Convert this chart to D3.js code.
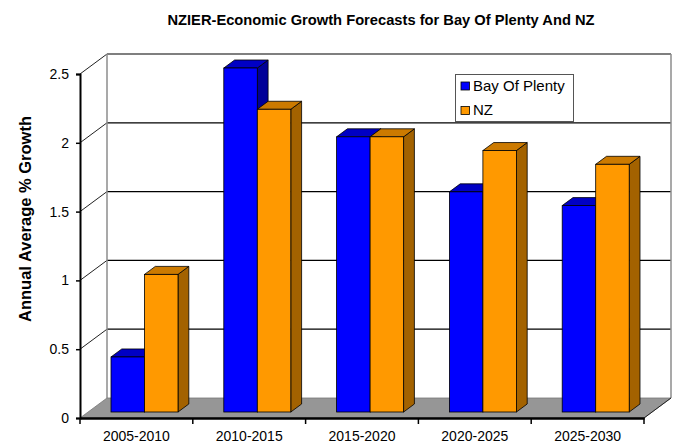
<!DOCTYPE html>
<html>
<head>
<meta charset="utf-8">
<script src="https://cdn.jsdelivr.net/npm/d3@7"></script>
<style>
  body { margin: 0; background: #fff; }
  text { font-family: "Liberation Sans", Arial, sans-serif; }
</style>
</head>
<body>
<div id="chart"></div>
<script>
// Chart data
var categories = ["2005-2010", "2010-2015", "2015-2020", "2020-2025", "2025-2030"];
var bopValues = [0.4, 2.5, 2.0, 1.6, 1.5];
var nzValues = [1.0, 2.2, 2.0, 1.9, 1.8];
var seriesNames = ["Bay Of Plenty", "NZ"];
var yTicks = [0, 0.5, 1, 1.5, 2, 2.5];

var svgWidth = 684;
var svgHeight = 446;

// Front plane of the plot and the depth shift of the back wall
var plot = { left: 80, right: 644, top: 74, bottom: 418 };
var depth = { dx: 27, dy: -20 };

var svg = d3.select("#chart")
  .append("svg")
  .attr("width", svgWidth)
  .attr("height", svgHeight);

var xScale = d3.scaleBand()
  .domain(categories)
  .range([plot.left, plot.right]);

var yScale = d3.scaleLinear()
  .domain([0, 2.5])
  .range([plot.bottom, plot.top]);

// Point at depth t (0 = front, 1 = back wall)
function shift(x, y, t) {
  return [x + depth.dx * t, y + depth.dy * t];
}

// Back wall
var bwTop = yScale(2.5) + depth.dy;
var bwBottom = yScale(0) + depth.dy;
var bwLeft = plot.left + depth.dx;
var bwRight = plot.right + depth.dx;

svg.append("rect")
  .attr("x", bwLeft)
  .attr("y", bwTop)
  .attr("width", bwRight - bwLeft)
  .attr("height", bwBottom - bwTop)
  .attr("fill", "#fff");

// Gridlines on back wall
svg.selectAll(".grid")
  .data(yTicks.filter(d => d > 0))
  .enter()
  .append("line")
  .attr("x1", bwLeft)
  .attr("x2", bwRight)
  .attr("y1", d => yScale(d) + depth.dy)
  .attr("y2", d => yScale(d) + depth.dy)
  .attr("stroke", d => d === 2.5 ? "#555" : "#000")
  .attr("stroke-width", d => d === 2.5 ? 1.5 : 1.3);

// Lines on the side wall
svg.selectAll(".sidegrid")
  .data(yTicks.filter(d => d > 0))
  .enter()
  .append("line")
  .attr("x1", plot.left)
  .attr("x2", bwLeft)
  .attr("y1", d => yScale(d))
  .attr("y2", d => yScale(d) + depth.dy)
  .attr("stroke", "#222")
  .attr("stroke-width", 1);

// Wall edges
svg.append("line")
  .attr("x1", bwLeft).attr("x2", bwLeft)
  .attr("y1", bwTop).attr("y2", bwBottom)
  .attr("stroke", "#8c8c8c").attr("stroke-width", 1.5);
svg.append("line")
  .attr("x1", bwRight).attr("x2", bwRight)
  .attr("y1", bwTop).attr("y2", bwBottom)
  .attr("stroke", "#8c8c8c").attr("stroke-width", 1.5);

// Floor
var floorPts = [
  [plot.left, plot.bottom],
  [bwLeft, bwBottom],
  [bwRight, bwBottom],
  [plot.right, plot.bottom]
];
svg.append("polygon")
  .attr("points", floorPts.map(p => p.join(",")).join(" "))
  .attr("fill", "#969696")
  .attr("stroke", "#777")
  .attr("stroke-width", 0.8);
svg.append("line")
  .attr("x1", plot.right).attr("y1", plot.bottom)
  .attr("x2", bwRight).attr("y2", bwBottom)
  .attr("stroke", "#222").attr("stroke-width", 1);

// Bars
var barFront = 0.3, barBack = 0.7;
var barWidth = 33.5;
var groupWidth = barWidth * 2;
var colors = [
  { front: "#0000ff", top: "#0000c4", side: "#000098" },
  { front: "#ff9900", top: "#cc7a00", side: "#a36200" }
];

var barData = [];
categories.forEach(function(c, i) {
  [bopValues[i], nzValues[i]].forEach(function(v, s) {
    barData.push({ cat: c, value: v, series: s });
  });
});

var bars = svg.selectAll(".bar")
  .data(barData)
  .enter()
  .append("g")
  .attr("class", "bar");

function barGeom(d) {
  var x0 = xScale(d.cat) + (xScale.bandwidth() - groupWidth) / 2 + d.series * barWidth;
  var f0 = shift(x0, yScale(0), barFront);
  var f1 = shift(x0 + barWidth, yScale(d.value), barFront);
  var dx = depth.dx * (barBack - barFront), dy = depth.dy * (barBack - barFront);
  return { xl: f0[0], xr: f1[0], yb: f0[1], yt: f1[1], dx: dx, dy: dy };
}

function pts(arr) { return arr.map(p => p.join(",")).join(" "); }

bars.append("polygon")
  .attr("points", function(d) {
    var g = barGeom(d);
    return pts([[g.xr, g.yb], [g.xr + g.dx, g.yb + g.dy], [g.xr + g.dx, g.yt + g.dy], [g.xr, g.yt]]);
  })
  .attr("fill", d => colors[d.series].side)
  .attr("stroke", "#000").attr("stroke-width", 0.8).attr("stroke-linejoin", "round");

bars.append("polygon")
  .attr("points", function(d) {
    var g = barGeom(d);
    return pts([[g.xl, g.yt], [g.xl + g.dx, g.yt + g.dy], [g.xr + g.dx, g.yt + g.dy], [g.xr, g.yt]]);
  })
  .attr("fill", d => colors[d.series].top)
  .attr("stroke", "#000").attr("stroke-width", 0.8).attr("stroke-linejoin", "round");

bars.append("rect")
  .attr("x", d => barGeom(d).xl)
  .attr("y", d => barGeom(d).yt)
  .attr("width", barWidth)
  .attr("height", d => barGeom(d).yb - barGeom(d).yt)
  .attr("fill", d => colors[d.series].front)
  .attr("stroke", "#000").attr("stroke-width", 0.8);

// Axes
var leftAxis = d3.axisLeft(yScale)
  .tickValues(yTicks)
  .tickFormat(d3.format("~g"))
  .tickSize(4)
  .tickPadding(7);

var yAxisG = svg.append("g")
  .attr("transform", `translate(${plot.left}, 0)`)
  .call(leftAxis);
yAxisG.select(".domain").attr("stroke", "#000").attr("stroke-width", 2);
yAxisG.selectAll(".tick line").attr("stroke", "#000").attr("stroke-width", 1.5);
yAxisG.selectAll(".tick text")
  .attr("font-size", "14px")
  .attr("font-family", "Liberation Sans, Arial, sans-serif")
  .attr("fill", "#000");

var bottomAxis = d3.axisBottom(xScale)
  .tickSize(0)
  .tickPadding(13);

var xAxisG = svg.append("g")
  .attr("transform", `translate(0, ${plot.bottom})`)
  .call(bottomAxis);
xAxisG.select(".domain").attr("stroke", "#000").attr("stroke-width", 2.5);
xAxisG.selectAll(".tick text")
  .attr("font-size", "14px")
  .attr("font-family", "Liberation Sans, Arial, sans-serif")
  .attr("fill", "#000");

// Category boundary ticks
var boundaries = categories.map(c => xScale(c)).concat([plot.right]);
svg.selectAll(".xtick")
  .data(boundaries)
  .enter()
  .append("line")
  .attr("x1", d => d).attr("x2", d => d)
  .attr("y1", plot.bottom).attr("y2", plot.bottom + 6)
  .attr("stroke", "#000").attr("stroke-width", 1.5);

// Title
svg.append("text")
  .attr("x", 381)
  .attr("y", 25)
  .attr("text-anchor", "middle")
  .attr("font-size", "14.7px")
  .attr("font-weight", "bold")
  .text("NZIER-Economic Growth Forecasts for Bay Of Plenty And NZ");

// Y axis label
svg.append("text")
  .attr("transform", "translate(31, 219) rotate(-90)")
  .attr("text-anchor", "middle")
  .attr("font-size", "16.5px")
  .attr("font-weight", "bold")
  .text("Annual Average % Growth");

// Legend
var legend = svg.append("g");
legend.append("rect")
  .attr("x", 455.5).attr("y", 74.5)
  .attr("width", 118).attr("height", 47)
  .attr("fill", "#fff")
  .attr("stroke", "#555").attr("stroke-width", 1);

var legendItems = legend.selectAll(".item")
  .data(seriesNames)
  .enter()
  .append("g")
  .attr("transform", (d, i) => `translate(461, ${82 + i * 24.5})`);

legendItems.append("rect")
  .attr("width", 8.5).attr("height", 8)
  .attr("fill", (d, i) => colors[i].front)
  .attr("stroke", "#000").attr("stroke-width", 0.8);

legendItems.append("text")
  .attr("x", 12)
  .attr("y", 8.5)
  .attr("font-size", "15px")
  .text(d => d);
</script>
</body>
</html>
